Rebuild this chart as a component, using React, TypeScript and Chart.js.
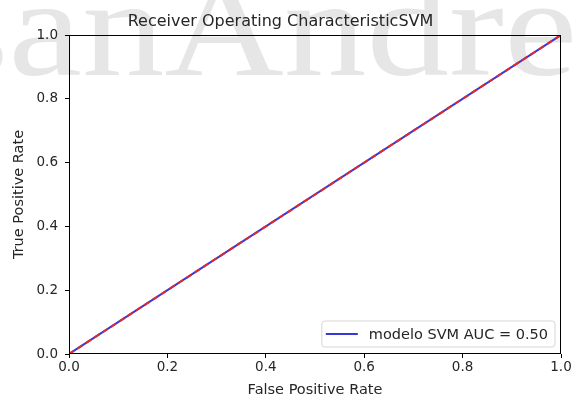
import React, { useEffect, useRef } from "react";
import { Chart, registerables } from "chart.js";

Chart.register(...registerables);

const fpr = [0, 1];
const tpr = [0, 1];
const diagX = [0, 1];
const diagY = [0, 1];
const xTicks = [0, 0.2, 0.4, 0.6, 0.8, 1.0];
const yTicks = [0, 0.2, 0.4, 0.6, 0.8, 1.0];
const rocLabel = "modelo SVM AUC = 0.50";
const titleText = "Receiver Operating CharacteristicSVM";
const xTitle = "False Positive Rate";
const yTitle = "True Positive Rate";
const watermark = "sanAndre";

const FONT = "'DejaVu Sans', sans-serif";
const TEXT = "#262626";

const watermarkPlugin = {
  id: "watermark",
  beforeDraw(chart: any) {
    const ctx = chart.ctx;
    ctx.save();
    ctx.fillStyle = "#ffffff";
    ctx.fillRect(0, 0, chart.width, chart.height);
    ctx.fillStyle = "#e6e6e6";
    ctx.font = "140px 'Liberation Serif', serif";
    ctx.textBaseline = "alphabetic";
    ctx.textAlign = "left";
    ctx.translate(8, 0);
    ctx.scale(1.18, 1);
    ctx.fillText(watermark, -54, 75);
    ctx.restore();
  },
};

const framePlugin = {
  id: "frame",
  afterDatasetsDraw(chart: any) {
    const { ctx, chartArea } = chart;
    const { left, right, top, bottom } = chartArea;
    ctx.save();
    ctx.strokeStyle = "#000000";
    ctx.lineWidth = 1;
    ctx.strokeRect(Math.round(left) + 0.5, Math.round(top) + 0.5, Math.round(right - left) - 1, Math.round(bottom - top) - 1);
    // legend
    const ds = chart.data.datasets.find((d: any) => d.label);
    if (ds) {
      ctx.font = `14.5px ${FONT}`;
      const tw = ctx.measureText(ds.label).width;
      const w = 4 + 32 + 11 + tw + 7;
      const h = 26;
      const x = right - 6 - w;
      const y = bottom - 7 - h;
      ctx.beginPath();
      const r = 3;
      ctx.moveTo(x + r, y);
      ctx.arcTo(x + w, y, x + w, y + h, r);
      ctx.arcTo(x + w, y + h, x, y + h, r);
      ctx.arcTo(x, y + h, x, y, r);
      ctx.arcTo(x, y, x + w, y, r);
      ctx.closePath();
      ctx.fillStyle = "rgba(255,255,255,0.85)";
      ctx.fill();
      ctx.strokeStyle = "#d6d6d6";
      ctx.stroke();
      ctx.beginPath();
      ctx.strokeStyle = ds.borderColor;
      ctx.lineWidth = 2;
      ctx.moveTo(x + 4, y + h / 2);
      ctx.lineTo(x + 36, y + h / 2);
      ctx.stroke();
      ctx.fillStyle = TEXT;
      ctx.textBaseline = "middle";
      ctx.fillText(ds.label, x + 47, y + h / 2 + 1);
    }
    ctx.restore();
  },
};

export default function App() {
  const ref = useRef<HTMLCanvasElement | null>(null);
  useEffect(() => {
    if (!ref.current) return;
    const chart = new Chart(ref.current, {
      type: "scatter",
      data: {
        datasets: [
          {
            label: rocLabel,
            data: fpr.map((v, i) => ({ x: v, y: tpr[i] })),
            showLine: true,
            borderColor: "#3838d8",
            borderWidth: 2,
            pointRadius: 0,
            order: 2,
          },
          {
            label: "",
            data: diagX.map((v, i) => ({ x: v, y: diagY[i] })),
            showLine: true,
            borderColor: "#e02a2a",
            borderWidth: 2,
            borderDash: [6, 4],
            pointRadius: 0,
            order: 1,
          },
        ],
      },
      options: {
        animation: false,
        responsive: false,
        events: [],
        layout: { padding: { left: 0, right: 14, top: 0, bottom: 0 } },
        plugins: {
          legend: { display: false },
          tooltip: { enabled: false },
          title: {
            display: true,
            text: titleText,
            color: TEXT,
            font: { family: FONT, size: 16, weight: "normal" },
            padding: { top: 12, bottom: 3.8 },
          },
        },
        scales: {
          x: {
            type: "linear",
            min: 0,
            max: 1,
            afterBuildTicks: (s: any) => {
              s.ticks = xTicks.map((v) => ({ value: v }));
            },
            afterFit: (s: any) => {
              s.height = 51;
            },
            grid: { display: true, drawOnChartArea: false, drawTicks: true, tickLength: 4, color: "#000" },
            border: { display: false },
            ticks: {
              color: TEXT,
              font: { family: FONT, size: 13.5 },
              padding: 1,
              maxRotation: 0,
              callback: (v: any) => Number(v).toFixed(1),
            },
            title: {
              display: true,
              text: xTitle,
              color: TEXT,
              font: { family: FONT, size: 14.5 },
              padding: { top: 0, bottom: 6 },
            },
          },
          y: {
            type: "linear",
            min: 0,
            max: 1,
            afterBuildTicks: (s: any) => {
              s.ticks = yTicks.map((v) => ({ value: v }));
            },
            afterFit: (s: any) => {
              s.width = 69;
            },
            grid: { display: true, drawOnChartArea: false, drawTicks: true, tickLength: 4, color: "#000" },
            border: { display: false },
            ticks: {
              color: TEXT,
              font: { family: FONT, size: 13.5 },
              padding: 7,
              callback: (v: any) => Number(v).toFixed(1),
            },
            title: {
              display: true,
              text: yTitle,
              color: TEXT,
              font: { family: FONT, size: 14.5 },
              padding: { top: 11, bottom: 0 },
            },
          },
        },
      },
      plugins: [watermarkPlugin, framePlugin],
    } as any);
    return () => chart.destroy();
  }, []);
  return (
    <div style={{ position: "fixed", left: 0, top: 0, width: 575, height: 405 }}>
      <canvas ref={ref} width={575} height={405} style={{ display: "block" }} />
    </div>
  );
}
